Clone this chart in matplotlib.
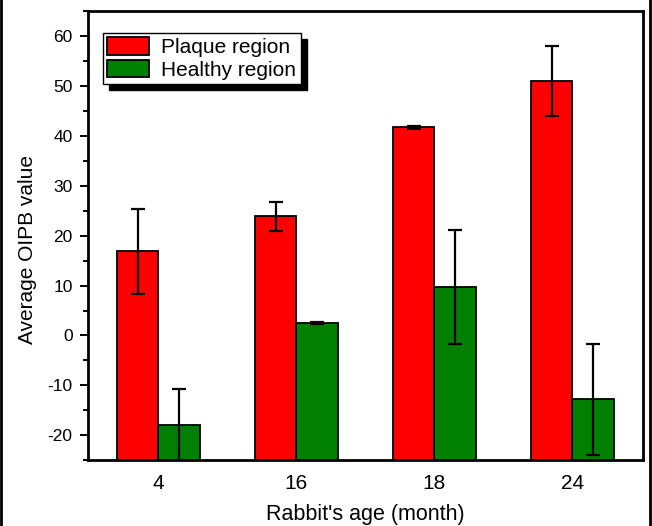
import matplotlib
matplotlib.use("Agg")
import matplotlib.pyplot as plt
import numpy as np
from matplotlib.patches import Shadow
from matplotlib.lines import Line2D
from matplotlib.ticker import MultipleLocator

plt.rcParams['font.family'] = ['Liberation Sans', 'DejaVu Sans']
plt.rcParams['axes.unicode_minus'] = False

ages = ["4", "16", "18", "24"]
plaque = [16.9, 23.9, 41.7, 51.0]
plaque_err = [8.5, 2.9, 0.3, 7.0]
healthy = [-18.0, 2.5, 9.7, -12.8]
healthy_err = [7.2, 0.2, 11.5, 11.1]
ymin, ymax = -25, 65

fig = plt.figure(figsize=(6.52, 5.26), dpi=100)
ax = fig.add_axes([0.135, 0.125, 0.851, 0.854])

x = np.arange(len(ages))
w = 0.30
# bars start at the bottom of the axis, like in Origin
ax.bar(x - w/2, np.array(plaque) - ymin, w, bottom=ymin, color="#ff0000",
       edgecolor="black", linewidth=1.3, label="Plaque region", zorder=2)
ax.bar(x + w/2, np.array(healthy) - ymin, w, bottom=ymin, color="#007f00",
       edgecolor="black", linewidth=1.3, label="Healthy region", zorder=2)
ax.errorbar(x - w/2, plaque, yerr=plaque_err, fmt="none", ecolor="black",
            elinewidth=1.6, capsize=5, capthick=1.6, zorder=3)
ax.errorbar(x + w/2, healthy, yerr=healthy_err, fmt="none", ecolor="black",
            elinewidth=1.6, capsize=5, capthick=1.6, zorder=3)

ax.set_xlim(-0.51, 3.51)
ax.set_ylim(ymin, ymax)
ax.set_xticks(x)
ax.set_xticklabels(ages, fontsize=15)
ax.tick_params(axis="x", length=0, pad=10)
ax.yaxis.set_major_locator(MultipleLocator(10))
ax.yaxis.set_minor_locator(MultipleLocator(5))
ax.tick_params(axis="y", which="major", direction="out", length=6, width=1.4,
               labelsize=12.5, pad=5)
ax.tick_params(axis="y", which="minor", direction="out", length=3.5, width=1.4)
for s in ax.spines.values():
    s.set_linewidth(2)

ax.set_ylabel("Average OIPB value", fontsize=15)
ax.yaxis.set_label_coords(-0.092, 0.47)
ax.set_xlabel("Rabbit's age (month)", fontsize=15.5, labelpad=8)

leg = ax.legend(loc="upper left", bbox_to_anchor=(0.027, 0.951), fontsize=15,
                frameon=True, fancybox=False, edgecolor="black", framealpha=1,
                handlelength=2.0, handleheight=0.9, borderpad=0.2,
                labelspacing=0.15, handletextpad=0.6, borderaxespad=0)
leg.get_frame().set_linewidth(1.0)
for h in leg.legend_handles:
    h.set_linewidth(1.3)
sh = Shadow(leg.legendPatch, 4.5, -4.5)
sh.set_facecolor("black")
sh.set_edgecolor("black")
sh.set_alpha(1)
sh.set_zorder(4.9)
ax.add_artist(sh)

# thin frame lines on the left and right edge of the image
fig.add_artist(Line2D([0.002, 0.002], [0, 1], color="black", lw=2))
fig.add_artist(Line2D([0.997, 0.997], [0, 1], color="black", lw=2))

fig.canvas.draw()
fig.savefig("out.png", dpi=100)
